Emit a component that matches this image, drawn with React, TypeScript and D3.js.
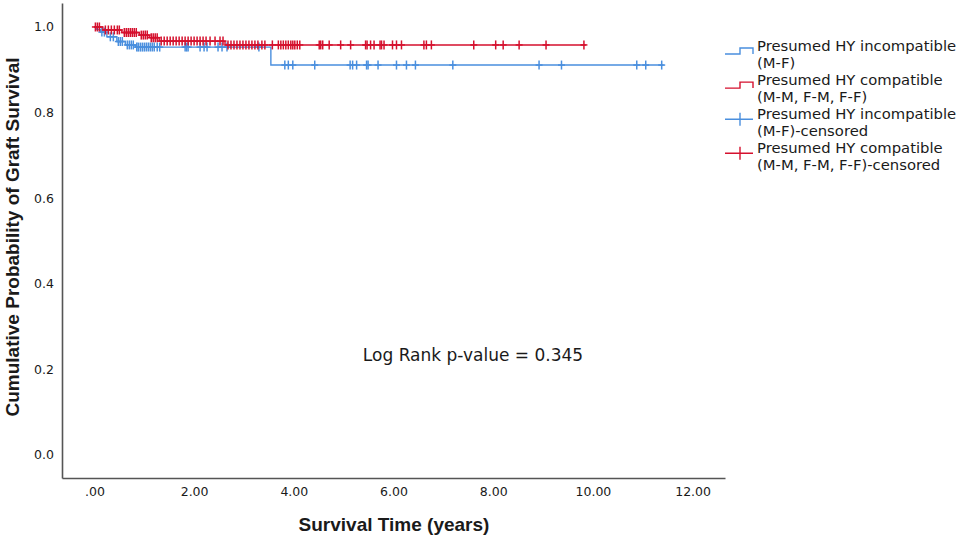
import { useRef, useEffect } from "react";
import * as d3 from "d3";

const WIDTH = 957;
const HEIGHT = 537;

const BLUE = "#4a8fde";
const RED = "#d5112e";

// Presumed HY incompatible (M-F)
const blueEventTimes = [0.04, 0.12, 0.25, 0.45, 0.62, 0.82, 3.54];
const blueSurvival = [0.994, 0.988, 0.977, 0.966, 0.958, 0.953, 0.911];
const blueCensored = [
  0.15, 0.2, 0.32, 0.38, 0.48, 0.52, 0.56, 0.66, 0.7, 0.74, 0.78, 0.85, 0.88, 0.92, 0.96, 1.0, 1.04,
  1.08, 1.12, 1.16, 1.2, 1.26, 1.31, 1.82, 1.85, 1.88, 2.12, 2.2, 2.26, 2.48, 2.56, 2.66, 3.3, 3.82,
  3.89, 3.98, 4.42, 5.13, 5.18, 5.26, 5.46, 5.49, 5.69, 6.06, 6.26, 6.44, 7.19, 8.92, 9.37, 10.88,
  11.06, 11.38,
];
const blueEndTime = 11.42;

// Presumed HY compatible (M-M, F-M, F-F)
const redEventTimes = [0.17, 0.55, 0.9, 1.1, 1.3, 2.62];
const redSurvival = [0.993, 0.987, 0.981, 0.975, 0.967, 0.958];
const redCensored = [
  0.02, 0.06, 0.1, 0.22, 0.28, 0.34, 0.4, 0.46, 0.5, 0.6, 0.64, 0.68, 0.72, 0.76, 0.8, 0.84, 0.94,
  0.98, 1.02, 1.06, 1.14, 1.18, 1.22, 1.26, 1.34, 1.4, 1.46, 1.52, 1.58, 1.64, 1.7, 1.76, 1.82, 1.88,
  1.94, 2.0, 2.06, 2.12, 2.18, 2.24, 2.32, 2.42, 2.52, 2.58, 2.68, 2.74, 2.8, 2.86, 2.92, 2.98, 3.04,
  3.1, 3.16, 3.22, 3.28, 3.36, 3.42, 3.57, 3.69, 3.74, 3.79, 3.84, 3.89, 3.94, 3.98, 4.02, 4.07, 4.12,
  4.51, 4.54, 4.58, 4.71, 4.94, 5.14, 5.44, 5.47, 5.54, 5.61, 5.73, 5.76, 5.81, 5.98, 6.06, 6.16,
  6.61, 6.66, 6.76, 7.61, 8.05, 8.2, 8.52, 9.06, 9.82,
];
const redEndTime = 9.86;

const xTickValues = [0, 2, 4, 6, 8, 10, 12];
const xTickLabels = [".00", "2.00", "4.00", "6.00", "8.00", "10.00", "12.00"];
const yTickValues = [0, 0.2, 0.4, 0.6, 0.8, 1.0];
const yTickLabels = ["0.0", "0.2", "0.4", "0.6", "0.8", "1.0"];

const legendLabels = [
  ["Presumed HY incompatible", "(M-F)"],
  ["Presumed HY compatible", "(M-M, F-M, F-F)"],
  ["Presumed HY incompatible", "(M-F)-censored"],
  ["Presumed HY compatible", "(M-M, F-M, F-F)-censored"],
];
const legendColors = [BLUE, RED, BLUE, RED];
const legendCensored = [false, false, true, true];

function survivalAt(times: number[], surv: number[], t: number) {
  const i = d3.bisectRight(times, t);
  return i === 0 ? 1 : surv[i - 1];
}

export default function App() {
  const svgRef = useRef<SVGSVGElement>(null);

  useEffect(() => {
    if (!svgRef.current) return;
    const svg = d3.select(svgRef.current);
    svg.selectAll("*").remove();

    const x = d3.scaleLinear().domain([-0.65, 12.65]).range([62, 725]);
    const y = d3.scaleLinear().domain([-0.054, 1.056]).range([478, 3]);

    // axes, no tick marks
    const gx = svg
      .append("g")
      .attr("transform", "translate(0,478)")
      .call(
        d3
          .axisBottom(x)
          .tickValues(xTickValues)
          .tickFormat((_d, i) => xTickLabels[i])
          .tickSize(0)
          .tickPadding(9)
      );
    const gy = svg
      .append("g")
      .attr("transform", "translate(62,0)")
      .call(
        d3
          .axisLeft(y)
          .tickValues(yTickValues)
          .tickFormat((_d, i) => yTickLabels[i])
          .tickSize(0)
          .tickPadding(8)
      );
    [gx, gy].forEach((g) => {
      g.attr("font-family", "DejaVu Sans").attr("font-size", 12.5);
      g.select(".domain").attr("stroke", "#555").attr("stroke-width", 1.6);
      g.selectAll("text").attr("fill", "#1a1a1a");
    });

    const line = d3
      .line<[number, number]>()
      .x((d) => x(d[0]))
      .y((d) => y(d[1]))
      .curve(d3.curveStepAfter);

    const groups = [
      { times: blueEventTimes, surv: blueSurvival, cens: blueCensored, end: blueEndTime, color: BLUE },
      { times: redEventTimes, surv: redSurvival, cens: redCensored, end: redEndTime, color: RED },
    ];

    groups.forEach((grp) => {
      const pts: [number, number][] = [
        [0, 1],
        ...grp.times.map((t, i) => [t, grp.surv[i]] as [number, number]),
        [grp.end, grp.surv[grp.surv.length - 1]],
      ];
      svg
        .append("path")
        .attr("d", line(pts) || "")
        .attr("fill", "none")
        .attr("stroke", grp.color)
        .attr("stroke-width", 1.4);

      const marks = svg.append("g").attr("stroke", grp.color).attr("stroke-width", 1.5);
      grp.cens.forEach((t) => {
        const cx = x(t);
        const cy = y(survivalAt(grp.times, grp.surv, t));
        marks.append("line").attr("x1", cx).attr("x2", cx).attr("y1", cy - 4.5).attr("y2", cy + 4.5);
        marks.append("line").attr("x1", cx - 3.5).attr("x2", cx + 3.5).attr("y1", cy).attr("y2", cy);
      });
    });

    // annotation
    svg
      .append("text")
      .attr("x", 473)
      .attr("y", 361)
      .attr("text-anchor", "middle")
      .attr("font-family", "DejaVu Sans")
      .attr("font-size", 17)
      .attr("fill", "#1a1a1a")
      .text("Log Rank p-value = 0.345");

    // axis titles
    svg
      .append("text")
      .attr("transform", "translate(19,237) rotate(-90)")
      .attr("text-anchor", "middle")
      .attr("font-family", "Liberation Sans")
      .attr("font-weight", "bold")
      .attr("font-size", 19)
      .attr("fill", "#1a1a1a")
      .text("Cumulative Probability of Graft Survival");
    svg
      .append("text")
      .attr("x", 394)
      .attr("y", 531)
      .attr("text-anchor", "middle")
      .attr("font-family", "Liberation Sans")
      .attr("font-weight", "bold")
      .attr("font-size", 19)
      .attr("fill", "#1a1a1a")
      .text("Survival Time (years)");

    // legend
    const legend = svg.append("g");
    legendLabels.forEach((lines, i) => {
      const base = 51 + i * 34.1;
      const color = legendColors[i];
      if (legendCensored[i]) {
        legend
          .append("path")
          .attr("d", `M725,${base}H753M740,${base - 6.5}V${base + 6.5}`)
          .attr("fill", "none")
          .attr("stroke", color)
          .attr("stroke-width", 1.4);
      } else {
        legend
          .append("path")
          .attr("d", `M725,${base + 3}H740V${base - 3}H753V${base + 3}`)
          .attr("fill", "none")
          .attr("stroke", color)
          .attr("stroke-width", 1.4);
      }
      lines.forEach((txt, j) => {
        legend
          .append("text")
          .attr("x", 757)
          .attr("y", base + j * 16.8)
          .attr("font-family", "DejaVu Sans")
          .attr("font-size", 14.8)
          .attr("fill", "#1a1a1a")
          .text(txt);
      });
    });
  }, []);

  return (
    <svg
      ref={svgRef}
      width={WIDTH}
      height={HEIGHT}
      style={{ position: "absolute", left: 0, top: 0, background: "#fff" }}
    />
  );
}
